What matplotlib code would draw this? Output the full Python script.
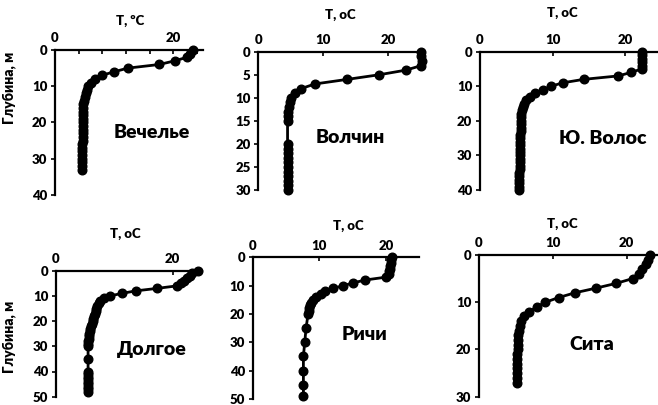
import matplotlib
matplotlib.use("Agg")
import matplotlib.pyplot as plt
from matplotlib.ticker import FixedLocator

plt.rcParams["font.family"] = ["Lato", "Open Sans", "DejaVu Sans"]
plt.rcParams["font.weight"] = "bold"

# ---------------------------------------------------------------------------
# Temperature profiles: depth (m) and temperature (deg C)
# ---------------------------------------------------------------------------
vechelye_depth = list(range(0, 34))
vechelye_temp = [23.3, 22.8, 22.3, 20.2, 17.6, 12.3, 10.0, 7.9, 6.8, 6.1,
                 5.6, 5.4, 5.2, 5.0, 4.9, 4.8, 4.75, 4.7, 4.7, 4.7,
                 4.7, 4.7, 4.7, 4.65, 4.65, 4.65, 4.6, 4.6, 4.6, 4.6,
                 4.6, 4.6, 4.6, 4.6]

volchin_depth = list(range(0, 16)) + list(range(20, 31))
volchin_temp = [25.0, 25.1, 25.2, 25.1, 22.7, 18.6, 13.7, 8.7, 6.6, 5.6,
                5.1, 4.9, 4.7, 4.6, 4.5, 4.5,
                4.5, 4.5, 4.5, 4.5, 4.5, 4.5, 4.5, 4.5, 4.5, 4.5, 4.5]

volos_depth = list(range(0, 41))
volos_temp = [22.3, 22.3, 22.3, 22.3, 22.3, 22.3, 20.8, 19.1, 14.3, 11.4,
              9.8, 8.7, 7.6, 6.9, 6.4, 6.1, 5.9, 5.75, 5.7, 5.65,
              5.65, 5.6, 5.6, 5.6, 5.55, 5.55, 5.5, 5.5, 5.5, 5.5,
              5.5, 5.45, 5.45, 5.45, 5.45, 5.4, 5.4, 5.4, 5.4, 5.4, 5.4]

dolgoe_depth = list(range(0, 31)) + [35] + list(range(40, 49))
dolgoe_temp = [24.3, 23.4, 23.0, 22.5, 22.0, 21.5, 20.8, 17.4, 13.7, 11.3,
               9.3, 8.2, 7.6, 7.3, 7.0, 6.9, 6.8, 6.7, 6.5, 6.4,
               6.3, 6.1, 6.0, 5.9, 5.8, 5.7, 5.6, 5.6, 5.5, 5.5, 5.5,
               5.5,
               5.5, 5.5, 5.5, 5.5, 5.5, 5.5, 5.5, 5.5, 5.5]

richi_depth = list(range(0, 21)) + [25, 30, 35, 40, 45, 49]
richi_temp = [20.85, 20.8, 20.7, 20.6, 20.6, 20.5, 20.4, 20.0, 16.9, 15.1,
              13.6, 12.0, 10.8, 10.2, 9.5, 9.0, 8.8, 8.6, 8.5, 8.4, 8.3,
              8.0, 7.8, 7.6, 7.6, 7.6, 7.6]

sita_depth = list(range(0, 28))
sita_temp = [23.2, 22.9, 22.6, 22.1, 21.7, 20.8, 18.6, 15.9, 13.0, 10.8,
             9.0, 7.8, 6.8, 6.1, 5.7, 5.5, 5.4, 5.35, 5.3, 5.3,
             5.25, 5.2, 5.2, 5.15, 5.15, 5.1, 5.1, 5.1]

names = ["Вечелье", "Волчин", "Ю. Волос", "Долгое", "Ричи", "Сита"]
x_titles = ["T, ºC", "T, oC", "T, oC", "T, oC", "T, oC", "T, oC"]
depth_max = [40, 30, 40, 50, 50, 30]
depth_step = [10, 5, 10, 10, 10, 10]
x_labelled = [[0, 20], [0, 10, 20], [0, 10, 20], [0, 20], [0, 10, 20], [0, 10, 20]]
x_ticks = [[0, 4, 8, 12, 16, 20, 24], [0, 10, 20], [0, 10, 20], [0, 20],
           [0, 10, 20], [0, 10, 20]]
profiles = [(vechelye_depth, vechelye_temp), (volchin_depth, volchin_temp),
            (volos_depth, volos_temp), (dolgoe_depth, dolgoe_temp),
            (richi_depth, richi_temp), (sita_depth, sita_temp)]

# ---------------------------------------------------------------------------
# Layout in pixels: x of 0 deg, px per deg, y of surface, y of bottom
# ---------------------------------------------------------------------------
W, H = 658, 405
layout = [
    (55.0, 5.92, 50.0, 195.0),
    (258.3, 6.50, 51.7, 190.0),
    (480.0, 7.25, 51.7, 190.0),
    (56.0, 5.83, 270.7, 396.7),
    (252.7, 6.67, 257.3, 399.0),
    (479.0, 7.38, 255.0, 396.7),
]
title_pos = [(130, 21), (340, 15), (562, 13), (125, 234), (348, 226), (562, 224)]
name_pos = [(152, 132), (350, 137), (603, 138), (152, 350), (365, 335), (592, 344)]
ylabel_pos = [(9, 88), (9, 337)]

fig = plt.figure(figsize=(W / 100, H / 100), dpi=100)

for i, (depth, temp) in enumerate(profiles):
    x0, sx, ytop, ybot = layout[i]
    xmax = 25
    ax = fig.add_axes([x0 / W, 1 - ybot / H, xmax * sx / W, (ybot - ytop) / H])
    ax.plot(temp, depth, color="black", lw=2.0, marker="o", ms=6.2,
            clip_on=False, zorder=3)
    ax.set_xlim(0, xmax)
    ax.set_ylim(depth_max[i], 0)

    for side in ["right", "bottom"]:
        ax.spines[side].set_visible(False)
    for side in ["left", "top"]:
        ax.spines[side].set_linewidth(1.6)

    ax.xaxis.tick_top()
    ax.xaxis.set_major_locator(FixedLocator(x_ticks[i]))
    ax.set_xticklabels([str(t) if t in x_labelled[i] else "" for t in x_ticks[i]])
    ax.set_yticks(range(0, depth_max[i] + 1, depth_step[i]))
    ax.tick_params(axis="x", direction="in", length=3, width=1.2, pad=4,
                   labelsize=9.5)
    ax.tick_params(axis="y", direction="out", length=3, width=1.2, pad=2.5,
                   labelsize=9.5)
    for lab in ax.get_xticklabels() + ax.get_yticklabels():
        lab.set_fontweight("heavy")

    tx, ty = title_pos[i]
    fig.text(tx / W, 1 - ty / H, x_titles[i], ha="center", va="center",
             fontsize=9.5, fontweight="heavy")
    nx, ny = name_pos[i]
    fig.text(nx / W, 1 - ny / H, names[i], ha="center", va="center",
             fontsize=14, fontweight="heavy")

for lx, ly in ylabel_pos:
    fig.text(lx / W, 1 - ly / H, "Глубина, м", rotation=90, ha="center",
             va="center", fontsize=10, fontweight="heavy")

fig.savefig("out.png", dpi=100)
